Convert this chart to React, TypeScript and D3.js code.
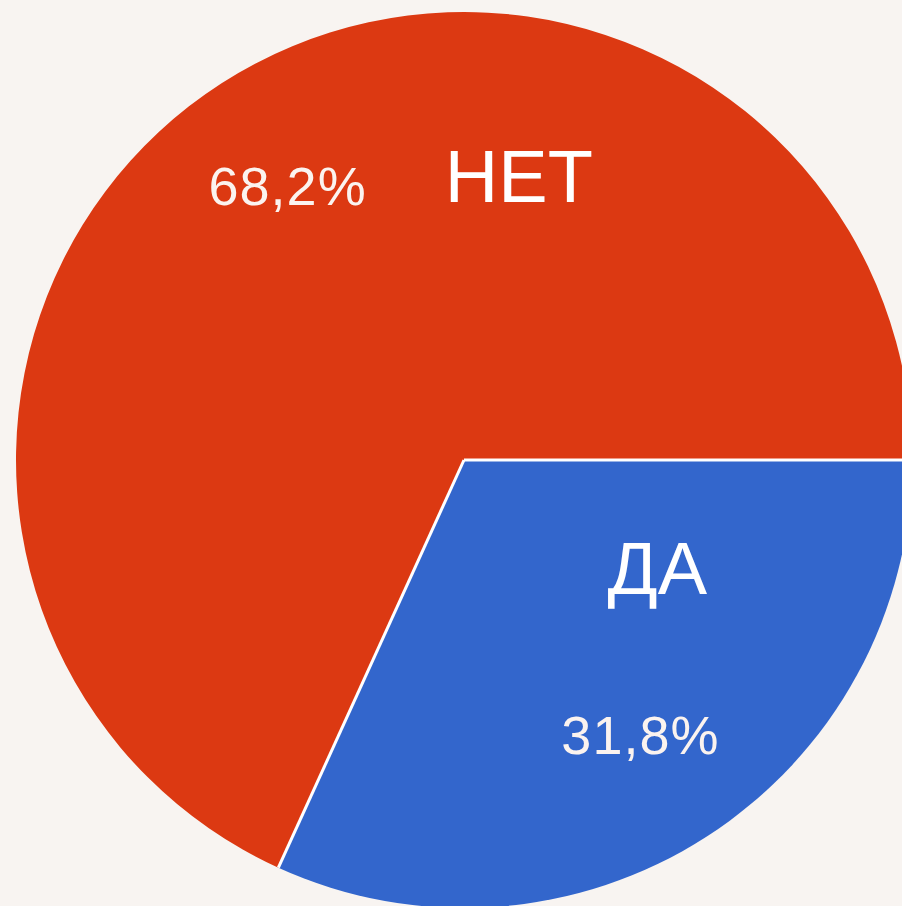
import React, { useRef, useEffect } from 'react';
import * as d3 from 'd3';

const labels = ['ДА', 'НЕТ'];
const values = [31.8, 68.2];
const pctLabels = ['31,8%', '68,2%'];
const colors = ['#3366CC', '#DC3912'];

const W = 902;
const H = 906;

const App = () => {
  const svgRef = useRef<SVGSVGElement>(null);

  useEffect(() => {
    document.body.style.margin = '0';
    const svg = d3.select(svgRef.current);
    svg.selectAll('*').remove();

    const cx = 464, cy = 460, r = 448;

    svg.append('rect').attr('width', W).attr('height', H).attr('fill', '#f8f4f1');

    const g = svg.append('g').attr('transform', `translate(${cx},${cy})`);

    const pie = d3.pie<number>()
      .sort(null)
      .startAngle(Math.PI / 2)
      .endAngle(Math.PI / 2 + 2 * Math.PI);
    const arcs = pie(values);

    const arc = d3.arc<d3.PieArcDatum<number>>().innerRadius(0).outerRadius(r);

    g.selectAll('path.slice')
      .data(arcs)
      .enter()
      .append('path')
      .attr('class', 'slice')
      .attr('d', arc)
      .attr('fill', (d, i) => colors[i]);

    // white separators between slices
    g.selectAll('line.sep')
      .data(arcs)
      .enter()
      .append('line')
      .attr('class', 'sep')
      .attr('x1', 0)
      .attr('y1', 0)
      .attr('x2', d => Math.sin(d.startAngle) * r)
      .attr('y2', d => -Math.cos(d.startAngle) * r)
      .attr('stroke', '#ffffff')
      .attr('stroke-width', 3);

    // percentage labels on the mid angle of each slice
    const pr = 326;
    g.selectAll('text.pct')
      .data(arcs)
      .enter()
      .append('text')
      .attr('class', 'pct')
      .attr('transform', d => {
        const a = (d.startAngle + d.endAngle) / 2;
        return `translate(${Math.sin(a) * pr},${-Math.cos(a) * pr})`;
      })
      .attr('dy', '0.36em')
      .attr('text-anchor', 'middle')
      .attr('font-family', 'Liberation Sans, Arial, sans-serif')
      .attr('font-size', '54px')
      .attr('letter-spacing', '1px')
      .attr('fill', '#fbf3ef')
      .text((d, i) => pctLabels[i]);

    // category names placed by hand (polar: angle deg, radius)
    const namePos = [[119, 221], [10.9, 290]];
    g.selectAll('text.name')
      .data(labels)
      .enter()
      .append('text')
      .attr('class', 'name')
      .attr('x', (d, i) => Math.sin(namePos[i][0] * Math.PI / 180) * namePos[i][1])
      .attr('y', (d, i) => -Math.cos(namePos[i][0] * Math.PI / 180) * namePos[i][1])
      .attr('dy', '0.36em')
      .attr('text-anchor', 'middle')
      .attr('font-family', 'Liberation Sans, Arial, sans-serif')
      .attr('font-size', '74px')
      .attr('fill', '#ffffff')
      .text(d => d);
  }, []);

  return (
    <svg ref={svgRef} width={W} height={H} style={{ display: 'block' }}></svg>
  );
};

export default App;
